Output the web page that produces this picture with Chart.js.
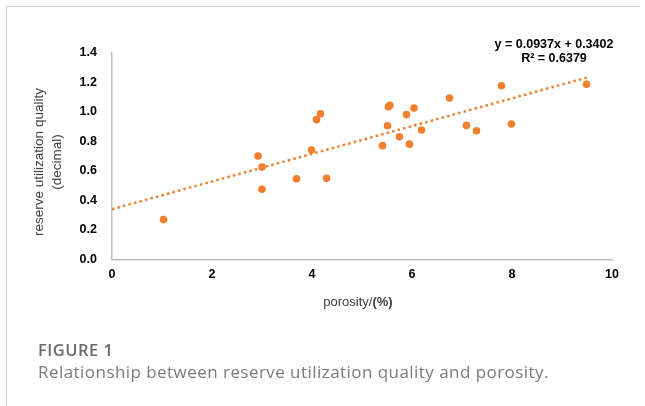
<!DOCTYPE html>
<html>
<head>
<meta charset="utf-8">
<script src="https://cdn.jsdelivr.net/npm/chart.js@4/dist/chart.umd.min.js"></script>
<style>
  html, body { margin: 0; padding: 0; background: #fff; }
  #wrap { position: relative; width: 645px; height: 406px; overflow: hidden; }
  #c { position: absolute; left: 0; top: 0; }
  .frameL { position: absolute; left: 6px; top: 6px; width: 1px; height: 400px; background: #cfcfcf; }
  .frameT { position: absolute; left: 6px; top: 6px; width: 634px; height: 1px; background: #cfcfcf; }
  .ytitle { position: absolute; left: -52px; top: 144px; width: 200px; height: 36px; transform: rotate(-90deg);
            text-align: center; font-family: "Liberation Sans", Arial, sans-serif; font-size: 13.5px; line-height: 18px; color: #404040; }
  .xtitle { position: absolute; left: 258px; top: 293px; width: 200px; text-align: center;
            font-family: "Liberation Sans", Arial, sans-serif; font-size: 13px; line-height: 17px; color: #404040; }
  .eq { position: absolute; left: 474px; top: 37px; width: 160px; text-align: center;
        font-family: "Liberation Sans", Arial, sans-serif; font-weight: bold; font-size: 12.5px; line-height: 14px; color: #000; }
  .figt { position: absolute; left: 38px; top: 338.5px; font-family: "Open Sans", sans-serif; font-weight: 600;
          font-size: 16.5px; line-height: 22px; color: #6a6a6a; letter-spacing: 0.5px; white-space: nowrap; }
  .figc { position: absolute; left: 38px; top: 361px; font-family: "Open Sans", sans-serif;
          font-size: 17px; line-height: 22px; color: #7a7a7a; letter-spacing: 0.45px; white-space: nowrap; }
</style>
</head>
<body>
<div id="wrap">
  <canvas id="c" width="645" height="406"></canvas>
  <div class="frameL"></div>
  <div class="frameT"></div>
  <div class="ytitle">reserve utilization quality<br>(decimal)</div>
  <div class="xtitle">porosity/<b>(%)</b></div>
  <div class="eq">y = 0.0937x + 0.3402<br>R² = 0.6379</div>
  <div class="figt">FIGURE 1</div>
  <div class="figc">Relationship between reserve utilization quality and porosity.</div>
</div>
<script>
// Data
const porosity = [1.03, 2.92, 3.0, 3.0, 3.69, 3.99, 4.09, 4.17, 4.29, 5.41, 5.51, 5.53, 5.56, 5.75, 5.89, 5.95, 6.04, 6.19, 6.75, 7.09, 7.29, 7.79, 7.99, 9.49];
const quality  = [0.27, 0.70, 0.625, 0.475, 0.546, 0.74, 0.945, 0.986, 0.549, 0.77, 0.905, 1.033, 1.043, 0.83, 0.98, 0.78, 1.024, 0.876, 1.092, 0.907, 0.871, 1.175, 0.916, 1.185];
const trendCoef = [0.0937, 0.3402];   // slope, intercept
const trendRange = [0, 9.5];
const xTicks = [0, 2, 4, 6, 8, 10];
const yTicks = [0.0, 0.2, 0.4, 0.6, 0.8, 1.0, 1.2, 1.4];

const ORANGE = '#F07F2E';
const pts = porosity.map((x, i) => ({ x: x, y: quality[i] }));
const trend = trendRange.map(x => ({ x: x, y: trendCoef[0] * x + trendCoef[1] }));

new Chart(document.getElementById('c'), {
  type: 'scatter',
  data: {
    datasets: [
      { type: 'scatter', data: pts, order: 0, backgroundColor: ORANGE, borderColor: ORANGE,
        pointRadius: 3.8, pointHoverRadius: 3.8, borderWidth: 0 },
      { type: 'line', data: trend, order: 1, borderColor: ORANGE, borderWidth: 2.5,
        borderDash: [2.5, 3.2], pointRadius: 0, fill: false, tension: 0 }
    ]
  },
  options: {
    responsive: false,
    animation: false,
    events: [],
    layout: { padding: { left: 0, right: 33, top: 52.5, bottom: 116.5 } },
    plugins: { legend: { display: false }, tooltip: { enabled: false } },
    scales: {
      x: {
        type: 'linear', min: xTicks[0], max: xTicks[xTicks.length - 1],
        afterFit: s => { s.height = 30; },
        afterBuildTicks: s => { s.ticks = xTicks.map(v => ({ value: v })); },
        grid: { display: false, drawTicks: false },
        border: { display: true, color: '#bfbfbf', width: 1.5 },
        ticks: { padding: 8, color: '#000', font: { family: '"Liberation Sans", Arial, sans-serif', size: 12.5, weight: 'bold' },
                 callback: v => String(v) }
      },
      y: {
        type: 'linear', min: yTicks[0], max: yTicks[yTicks.length - 1],
        afterFit: s => { s.width = 112; },
        afterBuildTicks: s => { s.ticks = yTicks.map(v => ({ value: v })); },
        grid: { display: false, drawTicks: false },
        border: { display: true, color: '#bfbfbf', width: 1.5 },
        ticks: { padding: 15, color: '#000', font: { family: '"Liberation Sans", Arial, sans-serif', size: 12.5, weight: 'bold' },
                 callback: v => Number(v).toFixed(1) }
      }
    }
  }
});
</script>
</body>
</html>
